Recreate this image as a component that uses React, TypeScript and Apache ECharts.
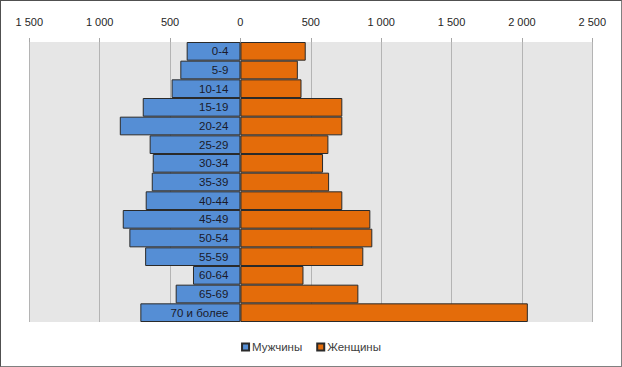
import React, { useEffect, useRef } from "react";
import * as echarts from "echarts";

const categories = ["0-4", "5-9", "10-14", "15-19", "20-24", "25-29", "30-34", "35-39", "40-44", "45-49", "50-54", "55-59", "60-64", "65-69", "70 и более"];
const men = [382, 427, 489, 694, 857, 645, 623, 630, 673, 836, 789, 677, 337, 460, 711];
const women = [464, 408, 434, 724, 724, 625, 587, 630, 724, 923, 937, 873, 448, 838, 2042];
const seriesNames = ["Мужчины", "Женщины"];
const axisMin = -1500;
const axisMax = 2500;
const axisStep = 500;

function fmt(v: number): string {
  const a = Math.abs(v);
  if (a >= 1000) {
    const th = Math.floor(a / 1000);
    const rest = String(a % 1000).padStart(3, "0");
    return th + "\u00a0" + rest;
  }
  return String(a);
}

export default function App() {
  const ref = useRef<HTMLDivElement>(null);
  useEffect(() => {
    document.body.style.margin = "0";
    if (!ref.current) return;
    const chart = echarts.init(ref.current, null, { renderer: "svg" });
    const font = "'Liberation Sans', 'Noto Sans', sans-serif";
    const W = 620;
    const gridLeft = 28.3;
    const gridRight = 28.7;
    const gridWidth = W - gridLeft - gridRight;
    const zeroOffset = ((0 - axisMin) / (axisMax - axisMin)) * gridWidth;
    chart.setOption({
      animation: false,
      textStyle: { fontFamily: font },
      grid: {
        left: gridLeft,
        right: gridRight,
        top: 41,
        bottom: 44,
        show: true,
        backgroundColor: "#E6E6E6",
        borderWidth: 0,
        containLabel: false,
        outerBoundsMode: "none",
      },
      legend: {
        bottom: 8,
        left: "center",
        icon: "rect",
        itemWidth: 7,
        itemHeight: 7,
        itemGap: 14,
        textStyle: { fontSize: 11.5, color: "#404040", fontFamily: font, padding: [0, 0, 0, -2] },
        data: seriesNames,
      },
      xAxis: {
        type: "value",
        position: "top",
        min: axisMin,
        max: axisMax,
        interval: axisStep,
        axisLine: { show: false, onZero: false },
        axisTick: { show: true, length: 4, lineStyle: { color: "#A6A6A6" } },
        splitLine: { show: true, lineStyle: { color: "#B4B4B4", width: 1 } },
        axisLabel: {
          formatter: (v: number) => fmt(v),
          fontSize: 11,
          color: "#262626",
          margin: 15,
          fontFamily: font,
        },
      },
      yAxis: {
        type: "category",
        data: categories,
        inverse: true,
        position: "left",
        offset: -zeroOffset,
        z: 10,
        axisLine: { show: false },
        axisTick: { show: false },
        splitLine: { show: false },
        axisLabel: {
          fontSize: 11.5,
          color: "#1a1a2a",
          margin: 12,
          fontFamily: font,
        },
      },
      series: [
        {
          name: seriesNames[0],
          type: "bar",
          data: men.map((v) => -v),
          barGap: "-100%",
          barCategoryGap: 0,
          itemStyle: { color: "#558ED5", borderColor: "#2a2a2a", borderWidth: 1 },
        },
        {
          name: seriesNames[1],
          type: "bar",
          data: women,
          barGap: "-100%",
          barCategoryGap: 0,
          itemStyle: { color: "#E46C0A", borderColor: "#2a2a2a", borderWidth: 1 },
        },
      ],
    });
    return () => chart.dispose();
  }, []);
  return (
    <div
      style={{
        width: 620,
        height: 365,
        border: "1px solid #808080",
        borderLeftColor: "#505050",
        borderTopColor: "#505050",
        background: "#fff",
      }}
    >
      <div ref={ref} style={{ width: 620, height: 365 }} />
    </div>
  );
}
